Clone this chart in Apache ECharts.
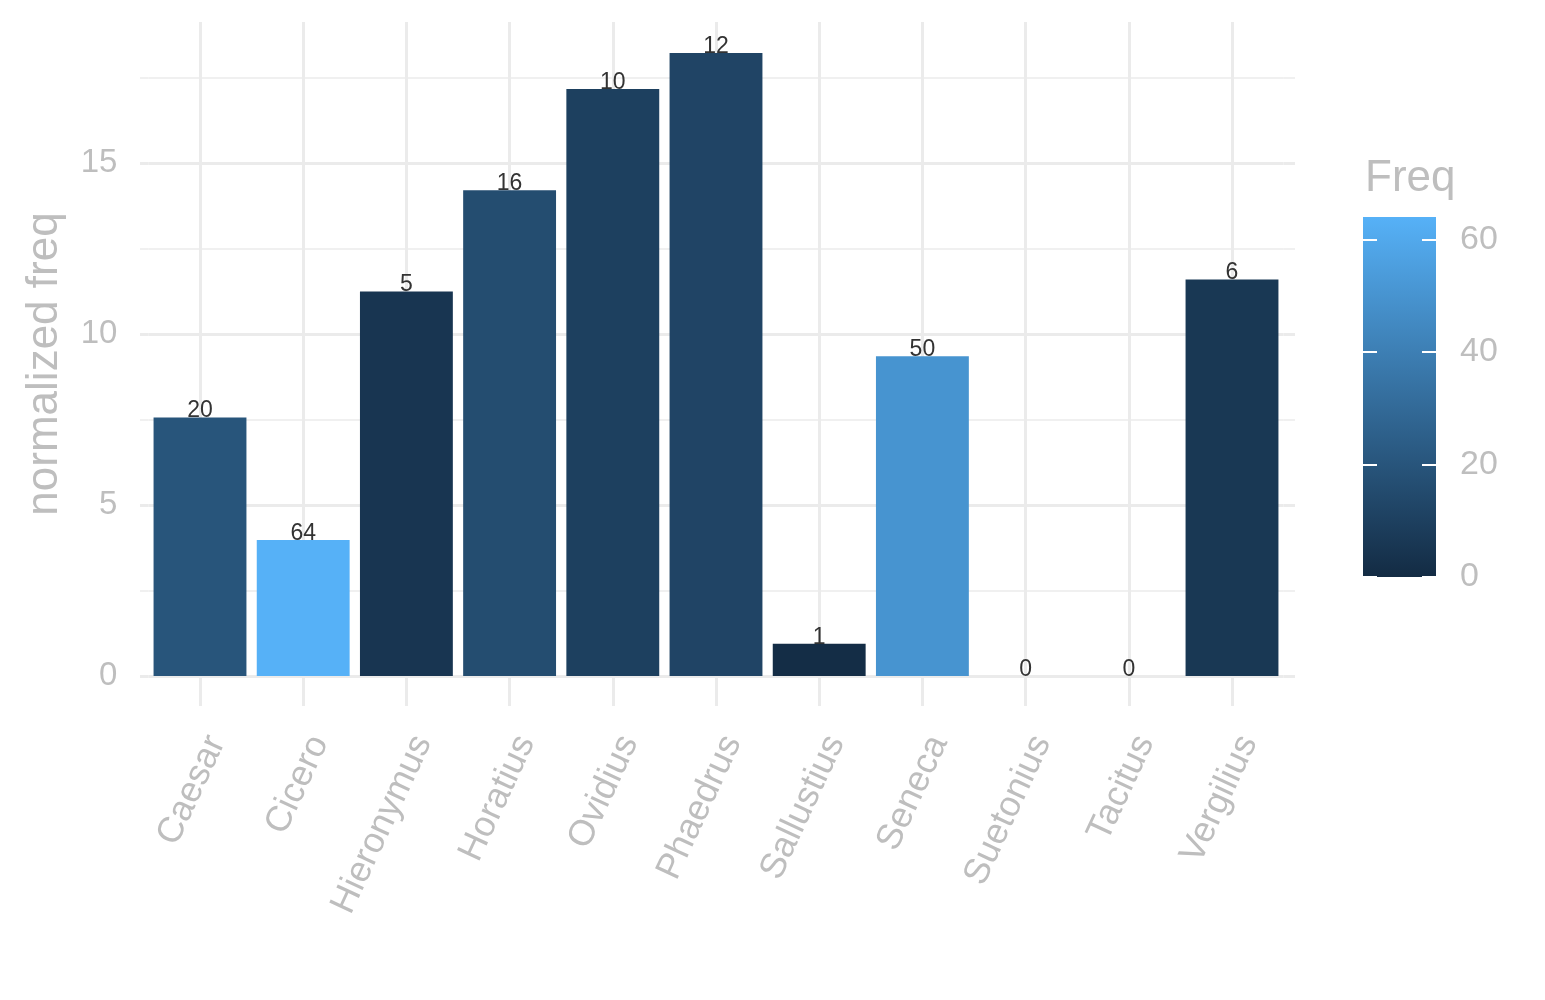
<!DOCTYPE html>
<html lang="en">
<head>
    <meta charset="UTF-8">
    <script src="https://cdn.jsdelivr.net/npm/echarts@6/dist/echarts.min.js"></script>
    <title>normalized freq</title>
    <style>
        html, body { margin: 0; padding: 0; background: #fff; }
    </style>
</head>
<body>
    <div id="main" style="width: 1545px; height: 1000px;"></div>
    <script>
        // data
        var authors = ['Caesar', 'Cicero', 'Hieronymus', 'Horatius', 'Ovidius', 'Phaedrus',
                       'Sallustius', 'Seneca', 'Suetonius', 'Tacitus', 'Vergilius'];
        var normFreq = [7.56, 3.98, 11.25, 14.21, 17.17, 18.22, 0.94, 9.35, 0, 0, 11.60];
        var freq = [20, 64, 5, 16, 10, 12, 1, 50, 0, 0, 6];
        var yTicks = [0, 5, 10, 15];
        var freqTicks = [0, 20, 40, 60];

        var GRID = '#EBEBEB';
        var AXTXT = '#BEBEBE';
        var FONT = 'Liberation Sans, Arial, Helvetica, sans-serif';
        var LOW = '#132B43', HIGH = '#56B1F7';

        var freqMax = Math.max.apply(null, freq);
        var yMax = 19.13;

        var myChart = echarts.init(document.getElementById('main'));

        var option = {
            animation: false,
            textStyle: { fontFamily: FONT },
            title: {
                text: 'Freq',
                left: 1360,
                top: 152,
                textStyle: { color: AXTXT, fontSize: 44, fontWeight: 'normal', fontFamily: FONT }
            },
            grid: [
                { left: 148.4, right: 261.4, top: 22, bottom: 324 },      // main panel
                { left: 1363, width: 73, top: 217, height: 360 }          // colour bar
            ],
            visualMap: {
                show: false,
                type: 'continuous',
                seriesIndex: 0,
                dimension: 2,
                min: 0,
                max: freqMax,
                inRange: { color: [LOW, HIGH] }
            },
            xAxis: [
                {   // labels + grid below zero
                    type: 'category',
                    gridIndex: 0,
                    data: authors,
                    axisLine: { show: false },
                    axisTick: { show: true, alignWithLabel: true, length: 30, lineStyle: { color: GRID, width: 3 } },
                    axisLabel: { rotate: 65, margin: 54, verticalAlign: 'top', color: AXTXT, fontSize: 36, fontFamily: FONT },
                    splitLine: { show: false }
                },
                {   // vertical grid lines inside the panel
                    type: 'category',
                    gridIndex: 0,
                    position: 'bottom',
                    data: authors,
                    axisLine: { show: false },
                    axisTick: { show: true, inside: true, alignWithLabel: true, length: 654, lineStyle: { color: GRID, width: 3 } },
                    axisLabel: { show: false },
                    splitLine: { show: false }
                },
                {
                    type: 'category',
                    gridIndex: 1,
                    data: ['Freq'],
                    show: false
                }
            ],
            yAxis: [
                {
                    type: 'value',
                    gridIndex: 0,
                    min: 0,
                    max: yMax,
                    interval: 5,
                    name: 'normalized freq',
                    nameLocation: 'middle',
                    nameRotate: 90,
                    nameGap: 82,
                    nameTextStyle: { color: AXTXT, fontSize: 44, fontFamily: FONT, padding: [0, 30, 0, 0] },
                    axisLine: { show: false },
                    axisTick: { show: true, length: 8.4, customValues: yTicks, lineStyle: { color: GRID, width: 3 } },
                    minorTick: { show: true, splitNumber: 2, length: 8.4, lineStyle: { color: GRID, width: 1.5 } },
                    axisLabel: { margin: 31, color: AXTXT, fontSize: 33, fontFamily: FONT, customValues: yTicks },
                    splitLine: { show: true, lineStyle: { color: [GRID, GRID, GRID, GRID, 'rgba(0,0,0,0)'], width: 3 } },
                    minorSplitLine: { show: true, lineStyle: { color: GRID, width: 1.5 } }
                },
                {   // right side extension of horizontal grid
                    type: 'value',
                    gridIndex: 0,
                    position: 'right',
                    min: 0,
                    max: yMax,
                    interval: 5,
                    axisLine: { show: false },
                    axisTick: { show: true, length: 11.4, customValues: yTicks, lineStyle: { color: GRID, width: 3 } },
                    minorTick: { show: true, splitNumber: 2, length: 11.4, lineStyle: { color: GRID, width: 1.5 } },
                    axisLabel: { show: false },
                    splitLine: { show: false }
                },
                {   // colour bar scale
                    type: 'value',
                    gridIndex: 1,
                    position: 'right',
                    min: 0,
                    max: freqMax,
                    z: 5,
                    axisLine: { show: false },
                    axisTick: { show: true, inside: true, length: 14, customValues: freqTicks, lineStyle: { color: '#fff', width: 2 } },
                    axisLabel: { margin: 24, color: AXTXT, fontSize: 34, fontFamily: FONT, customValues: freqTicks },
                    splitLine: { show: false }
                },
                {
                    type: 'value',
                    gridIndex: 1,
                    position: 'left',
                    min: 0,
                    max: freqMax,
                    z: 5,
                    axisLine: { show: false },
                    axisTick: { show: true, inside: true, length: 14, customValues: freqTicks, lineStyle: { color: '#fff', width: 2 } },
                    axisLabel: { show: false },
                    splitLine: { show: false }
                }
            ],
            series: [
                {
                    type: 'bar',
                    xAxisIndex: 0,
                    yAxisIndex: 0,
                    barWidth: '90%',
                    encode: { x: 0, y: 1 },
                    data: authors.map(function (a, i) { return [a, normFreq[i], freq[i]]; }),
                    label: {
                        show: true,
                        position: 'top',
                        distance: -5,
                        color: '#333',
                        fontSize: 23,
                        fontFamily: FONT,
                        formatter: function (p) { return p.value[2]; }
                    }
                },
                {
                    type: 'bar',
                    xAxisIndex: 2,
                    yAxisIndex: 2,
                    barWidth: '100%',
                    data: [freqMax],
                    itemStyle: {
                        color: new echarts.graphic.LinearGradient(0, 1, 0, 0, [
                            { offset: 0, color: LOW },
                            { offset: 1, color: HIGH }
                        ])
                    }
                }
            ]
        };
        myChart.setOption(option);
    </script>
</body>
</html>
